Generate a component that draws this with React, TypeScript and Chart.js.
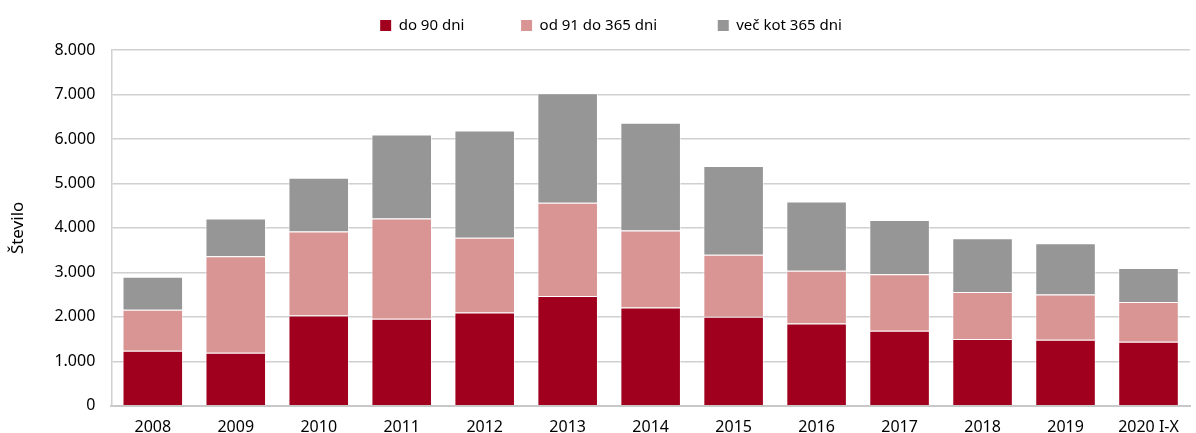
import React, { useEffect, useRef } from "react";
import { Chart, registerables } from "chart.js";

Chart.register(...registerables);

const categories = ["2008", "2009", "2010", "2011", "2012", "2013", "2014", "2015", "2016", "2017", "2018", "2019", "2020 I-X"];
const do90 = [1240, 1190, 2030, 1960, 2095, 2470, 2210, 2000, 1850, 1690, 1500, 1485, 1440];
const od91do365 = [920, 2170, 1890, 2250, 1685, 2095, 1730, 1395, 1185, 1270, 1060, 1015, 895];
const vecKot365 = [740, 850, 1210, 1890, 2410, 2465, 2425, 1995, 1560, 1220, 1210, 1155, 765];
const seriesNames = ["do 90 dni", "od 91 do 365 dni", "več kot 365 dni"];
const seriesColors = ["#A0001E", "#D99594", "#969696"];
const legendSpacers = ["            ", "             ", ""];

const FONT = "'Noto Sans', sans-serif";

const legendShift = {
  id: "legendShift",
  afterLayout(chart: any) {
    const lg = chart.legend;
    if (!lg) return;
    const dx = 12;
    const dy = -7;
    lg.left += dx;
    lg.right += dx;
    lg.top += dy;
    lg.bottom += dy;
    if (lg.legendHitBoxes) {
      lg.legendHitBoxes.forEach((h: any) => {
        h.left += dx;
        h.top += dy;
      });
    }
  },
};

export default function App() {
  const ref = useRef<HTMLCanvasElement | null>(null);
  useEffect(() => {
    document.body.style.margin = "0";
    const ctx = ref.current;
    if (!ctx) return;
    const chart = new Chart(ctx, {
      type: "bar",
      data: {
        labels: categories,
        datasets: [do90, od91do365, vecKot365].map((d, i) => ({
          label: seriesNames[i],
          data: d,
          backgroundColor: seriesColors[i],
          borderColor: "rgba(255,255,255,0.6)",
          borderWidth: 1,
          barPercentage: 0.73,
          categoryPercentage: 1,
        })),
      },
      plugins: [legendShift],
      options: {
        animation: false,
        responsive: false,
        maintainAspectRatio: false,
        layout: { padding: { left: 8, right: 6, top: 15, bottom: -16 } },
        plugins: {
          legend: {
            position: "top",
            align: "center",
            labels: {
              boxWidth: 11,
              boxHeight: 11,
              padding: 10,
              color: "#000",
              font: { family: FONT, size: 15 },
              generateLabels: (chart: any) =>
                chart.data.datasets.map((ds: any, i: number) => ({
                  text: ds.label + legendSpacers[i],
                  fillStyle: ds.backgroundColor,
                  strokeStyle: ds.backgroundColor,
                  lineWidth: 0,
                  datasetIndex: i,
                  hidden: false,
                })),
            },
          },
          tooltip: { enabled: false },
        },
        scales: {
          x: {
            stacked: true,
            grid: { display: false, drawTicks: false },
            border: { color: "#c8c8c8", width: 2 },
            ticks: { color: "#000", font: { family: FONT, size: 16 }, padding: 12, maxRotation: 0 },
          },
          y: {
            stacked: true,
            min: 0,
            max: 8000,
            title: { display: true, text: "Število", color: "#000", font: { family: FONT, size: 17 }, padding: { top: 0, bottom: 10 } },
            grid: { color: "#d0d0d0", lineWidth: 1.5, drawTicks: false },
            border: { color: "#d0d0d0", width: 1.5 },
            ticks: {
              stepSize: 1000,
              color: "#000",
              padding: 16,
              font: { family: FONT, size: 16 },
              callback: (v: any) => Number(v).toString().replace(/\B(?=(\d{3})+(?!\d))/g, "."),
            },
          },
        },
      },
    });
    return () => chart.destroy();
  }, []);
  return (
    <div style={{ width: 1196, height: 433 }}>
      <canvas ref={ref} width={1196} height={433} style={{ display: "block" }} />
    </div>
  );
}
